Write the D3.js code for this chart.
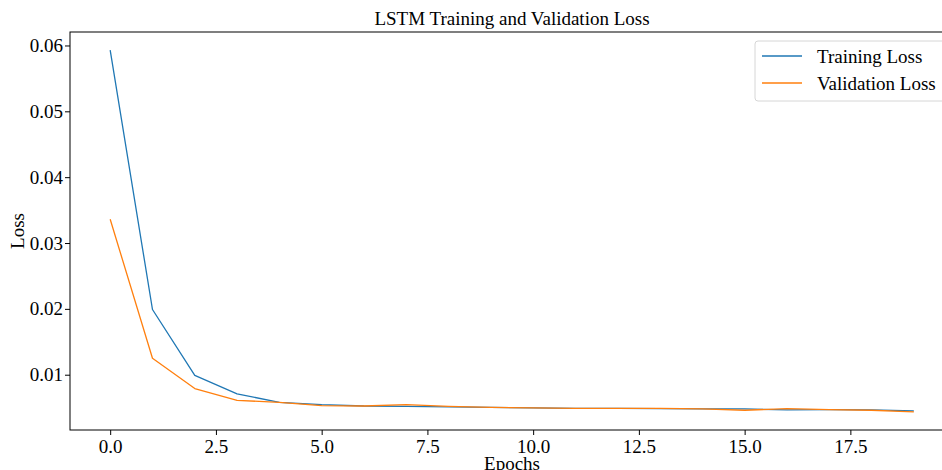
<!DOCTYPE html>
<html>
<head>
<meta charset="utf-8">
<script src="https://cdn.jsdelivr.net/npm/d3@7"></script>
<style>
  body { margin: 0; background: #fff; }
  svg text { font-family: "Liberation Serif", "DejaVu Serif", serif; fill: #000; }
</style>
</head>
<body>
<div id="chart"></div>
<script>
// values
const epochs = d3.range(20);
const trainLoss = [0.0593, 0.0199, 0.0099, 0.0071, 0.0058, 0.00545, 0.00525, 0.0052, 0.0051, 0.00505,
                   0.00495, 0.0049, 0.0049, 0.00485, 0.0048, 0.0048, 0.00465, 0.0047, 0.00465, 0.0045];
const valLoss   = [0.0336, 0.0125, 0.0079, 0.0061, 0.0058, 0.0053, 0.00525, 0.00545, 0.0052, 0.00505,
                   0.00495, 0.0049, 0.0049, 0.0049, 0.0048, 0.0046, 0.00485, 0.0047, 0.0046, 0.00435];
const xTicks = [0, 2.5, 5, 7.5, 10, 12.5, 15, 17.5];
const yTicks = [0.01, 0.02, 0.03, 0.04, 0.05, 0.06];
const seriesNames = ["Training Loss", "Validation Loss"];
const seriesColors = ["#1f77b4", "#ff7f0e"];

const width = 942, height = 470;
const margin = {top: 32, right: -12, bottom: 40, left: 70};
const plotW = width - margin.left - margin.right;
const plotH = height - margin.top - margin.bottom;
const fontSize = "19px";

const svg = d3.select("#chart").append("svg")
    .attr("width", width)
    .attr("height", height);

// matplotlib style 5% padding on both axes
const xPad = (d3.max(epochs) - d3.min(epochs)) * 0.05;
let all = trainLoss.concat(valLoss);
const yPad = (d3.max(all) - d3.min(all)) * 0.05;

const x = d3.scaleLinear()
    .domain([d3.min(epochs) - xPad, d3.max(epochs) + xPad])
    .range([0, plotW]);
const y = d3.scaleLinear()
    .domain([d3.min(all) - yPad, d3.max(all) + yPad])
    .range([plotH, 0]);

const g = svg.append("g").attr("transform", "translate(" + margin.left + "," + margin.top + ")");

// lines
const line = d3.line().x((d, i) => x(epochs[i])).y(d => y(d));
[trainLoss, valLoss].forEach(function(s, k) {
    g.append("path")
        .datum(s)
        .attr("d", line)
        .attr("fill", "none")
        .attr("stroke", seriesColors[k])
        .attr("stroke-width", 1.3)
        .attr("stroke-linejoin", "round");
});

// axes
const xAxis = d3.axisBottom(x).tickValues(xTicks).tickFormat(d3.format(".1f")).tickSizeOuter(0).tickSize(5).tickPadding(5);
const yAxis = d3.axisLeft(y).tickValues(yTicks).tickFormat(d3.format(".2f")).tickSizeOuter(0).tickSize(5).tickPadding(2);

g.append("g").attr("transform", "translate(0," + plotH + ")").call(xAxis)
    .call(a => a.select(".domain").remove())
    .selectAll("text").style("font-size", fontSize);
g.append("g").call(yAxis)
    .call(a => a.select(".domain").remove())
    .selectAll("text").style("font-size", fontSize);
g.selectAll(".tick line").attr("stroke", "#000").attr("stroke-width", 1);

// frame
g.append("rect")
    .attr("x", 0).attr("y", 0)
    .attr("width", plotW).attr("height", plotH)
    .attr("fill", "none")
    .attr("stroke", "#000")
    .attr("stroke-width", 1);

// labels
svg.append("text")
    .attr("x", margin.left + plotW / 2)
    .attr("y", 25)
    .attr("text-anchor", "middle")
    .style("font-size", fontSize)
    .text("LSTM Training and Validation Loss");
svg.append("text")
    .attr("x", margin.left + plotW / 2)
    .attr("y", 470)
    .attr("text-anchor", "middle")
    .style("font-size", fontSize)
    .text("Epochs");
svg.append("text")
    .attr("transform", "translate(24," + (margin.top + plotH / 2) + ") rotate(-90)")
    .attr("text-anchor", "middle")
    .style("font-size", fontSize)
    .text("Loss");

// legend
const leg = svg.append("g").attr("transform", "translate(755,41)");
leg.append("rect")
    .attr("width", 200).attr("height", 60)
    .attr("rx", 3)
    .attr("fill", "#fff").attr("fill-opacity", 0.8)
    .attr("stroke", "#d6d6d6").attr("stroke-width", 1);
seriesNames.forEach(function(name, k) {
    const yy = 15 + k * 27;
    leg.append("line")
        .attr("x1", 7).attr("x2", 47)
        .attr("y1", yy).attr("y2", yy)
        .attr("stroke", seriesColors[k]).attr("stroke-width", 1.3);
    leg.append("text")
        .attr("x", 62).attr("y", yy + 7)
        .style("font-size", fontSize)
        .text(name);
});
</script>
</body>
</html>
